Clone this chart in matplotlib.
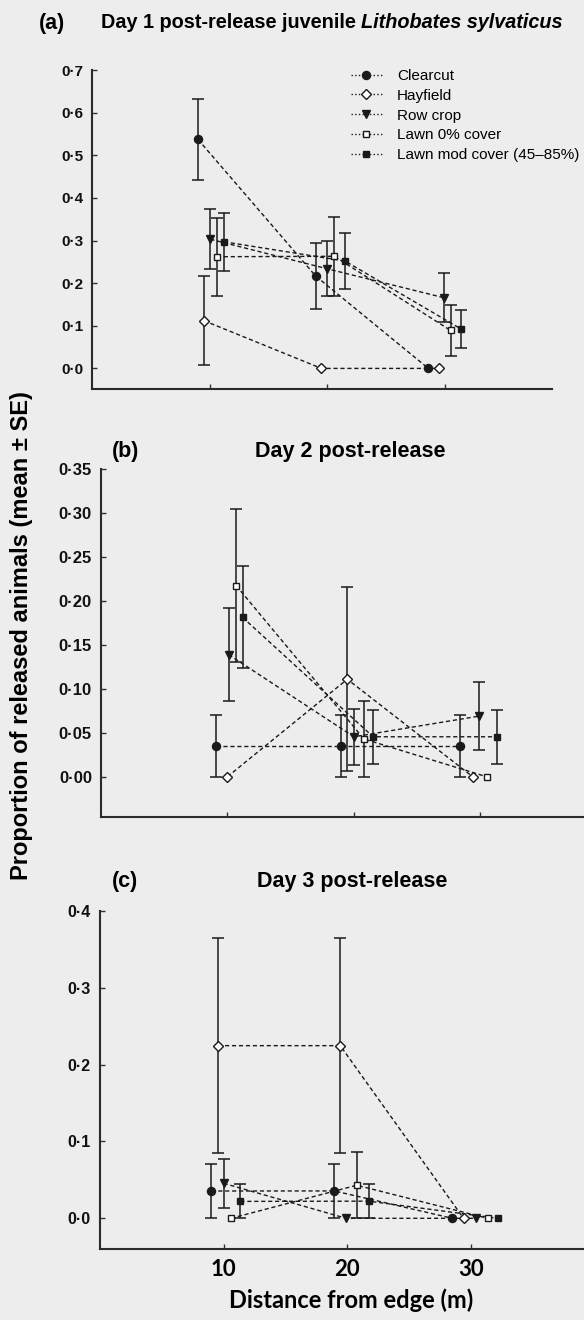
import numpy as np
import matplotlib
matplotlib.use("Agg")
import matplotlib.pyplot as plt
from matplotlib.lines import Line2D

# groups (legend order)
groups = ["Clearcut", "Hayfield", "Row crop", "Lawn 0% cover", "Lawn mod cover (45\u201385%)"]
markers = ["o", "D", "v", "s", "s"]
filled = [True, False, True, False, True]
distances = [10, 20, 30]

# Day 1 : x position (jittered distance), mean, SE ; rows follow groups
a_x = [[9.0, 19.0, 28.6], [9.5, 19.5, 29.5], [10.05, 19.95, 29.9],
       [10.6, 20.6, 30.5], [11.2, 21.5, 31.35]]
a_mean = [[0.537, 0.217, 0.0], [0.112, 0.0, 0.0], [0.303, 0.234, 0.166],
          [0.262, 0.263, 0.089], [0.297, 0.252, 0.093]]
a_se = [[0.094, 0.078, 0.0], [0.105, 0.0, 0.0], [0.07, 0.065, 0.057],
        [0.092, 0.092, 0.06], [0.068, 0.065, 0.045]]

# Day 2
b_x = [[9.06, 18.98, 28.43], [10.0, 19.48, 29.4], [10.1, 20.0, 29.9],
       [10.7, 20.79, 30.5], [11.2, 21.52, 31.3]]
b_mean = [[0.035, 0.035, 0.035], [0.0, 0.111, 0.0], [0.139, 0.0455, 0.069],
          [0.2174, 0.043, 0.0], [0.1814, 0.0455, 0.0455]]
b_se = [[0.035, 0.035, 0.035], [0.0, 0.105, 0.0], [0.053, 0.032, 0.039],
        [0.087, 0.043, 0.0], [0.058, 0.031, 0.031]]

# Day 3
c_x = [[9.0, 18.95, 28.5], [9.55, 19.43, 29.4], [10.0, 19.9, 30.4],
       [10.6, 20.76, 31.35], [11.35, 21.73, 32.15]]
c_mean = [[0.0355, 0.0356, 0.0], [0.2245, 0.2245, 0.0], [0.0455, 0.0, 0.0],
          [0.0, 0.043, 0.0], [0.022, 0.0223, 0.0]]
c_se = [[0.0355, 0.0355, 0.0], [0.14, 0.14, 0.0], [0.032, 0.0, 0.0],
        [0.0, 0.043, 0.0], [0.022, 0.022, 0.0]]

a_yticks = [0.0, 0.1, 0.2, 0.3, 0.4, 0.5, 0.6, 0.7]
b_yticks = [0.0, 0.05, 0.10, 0.15, 0.20, 0.25, 0.30, 0.35]
c_yticks = [0.0, 0.1, 0.2, 0.3, 0.4]

W, H = 584, 1320
bg = "#ededed"
ink = "#1a1a1a"
arial = ["Liberation Sans", "DejaVu Sans"]
calib = ["Lato", "DejaVu Sans"]

fig = plt.figure(figsize=(W / 100, H / 100), dpi=100, facecolor=bg)


def px_axes(left, top, right, bottom):
    return fig.add_axes([left / W, 1 - bottom / H, (right - left) / W, (bottom - top) / H])


def draw_panel(ax, xs, means, ses, xlim, ylim, yticks, ydec, tick_fs):
    for i in range(len(groups)):
        x = np.array(xs[i])
        m = np.array(means[i])
        s = np.array(ses[i])
        ax.plot(x, m, color=ink, lw=1.0, dashes=(3, 2), zorder=2)
        k = s > 0
        ax.errorbar(x[k], m[k], yerr=s[k], fmt="none", ecolor=ink, elinewidth=1.1,
                    capsize=4.5, capthick=1.1, zorder=3)
        ms = 5.8 if markers[i] in ("o", "v") else 5.0
        ax.plot(x, m, ls="none", marker=markers[i], ms=ms, mew=1.0, mec=ink,
                mfc=ink if filled[i] else "white", zorder=4)
    ax.set_xlim(*xlim)
    ax.set_ylim(*ylim)
    ax.set_facecolor("none")
    for sp in ["top", "right"]:
        ax.spines[sp].set_visible(False)
    for sp in ["left", "bottom"]:
        ax.spines[sp].set_linewidth(1.5)
        ax.spines[sp].set_color("#2a2a2a")
    ax.set_yticks(yticks)
    ax.set_yticklabels([("{:.%df}" % ydec).format(v).replace(".", "\u00b7") for v in yticks],
                       fontfamily=arial, fontweight="bold", fontsize=tick_fs, color="#111111")
    ax.set_xticks(distances)
    ax.tick_params(direction="in", length=3.5, width=1.0, color="#333333", pad=6.5)


ax_a = px_axes(92.3, 70, 551.7, 389.3)
draw_panel(ax_a, a_x, a_mean, a_se, (0, 39.1), (-0.049, 0.7), a_yticks, 1, 11)
ax_a.set_xticklabels([])

ax_b = px_axes(101, 469.3, 584, 816.7)
draw_panel(ax_b, b_x, b_mean, b_se, (0, 38.2), (-0.0455, 0.35), b_yticks, 2, 12)
ax_b.set_xticklabels([])

ax_c = px_axes(100, 910.7, 584, 1249.3)
draw_panel(ax_c, c_x, c_mean, c_se, (0, 39.14), (-0.0403, 0.4), c_yticks, 1, 11.5)
ax_c.set_xticklabels([str(d) for d in distances], fontfamily=calib, fontweight="bold", fontsize=16)
ax_c.tick_params(axis="x", pad=7)

# legend
handles = [Line2D([], [], color=ink, ls=":", lw=1.0, marker=markers[i],
                  ms=5.8 if markers[i] in ("o", "v") else 5.0, mec=ink,
                  mfc=ink if filled[i] else "white") for i in range(len(groups))]
fig.legend(handles, groups, loc="upper left", bbox_to_anchor=(351 / W, 1 - 69 / H),
           frameon=False, borderpad=0, borderaxespad=0, handlelength=2.0,
           handletextpad=1.0, labelspacing=0.38, prop={"family": arial, "size": 11})

# panel titles
fig.text(39 / W, 1 - 23 / H, "(a)", fontfamily=arial, fontweight="bold", fontsize=15.5, va="center")
t1 = fig.text(101 / W, 1 - 23 / H, "Day 1 post-release juvenile", fontfamily=arial,
              fontweight="bold", fontsize=14.3, va="center")
fig.canvas.draw()
bb = t1.get_window_extent()
fig.text((bb.x1 + 5) / W, 1 - 23 / H, "Lithobates sylvaticus", fontfamily=arial,
         fontweight="bold", fontstyle="italic", fontsize=14.3, va="center")

tfs = 15.5
fig.text(112 / W, 1 - 452 / H, "(b)", fontfamily=arial, fontweight="bold", fontsize=tfs, va="center")
fig.text(350 / W, 1 - 452 / H, "Day 2 post-release", fontfamily=arial, fontweight="bold",
         fontsize=tfs, va="center", ha="center")
fig.text(112 / W, 1 - 882 / H, "(c)", fontfamily=arial, fontweight="bold", fontsize=tfs, va="center")
fig.text(352 / W, 1 - 882 / H, "Day 3 post-release", fontfamily=arial, fontweight="bold",
         fontsize=tfs, va="center", ha="center")

# axis labels
fig.text(22 / W, 1 - 636 / H, "Proportion of released animals (mean \u00b1 SE)", rotation=90,
         fontfamily=arial, fontweight="bold", fontsize=17, va="center", ha="center")
fig.text(351 / W, 1 - 1300 / H, "Distance from edge (m)", fontfamily=calib, fontweight="bold",
         fontsize=17, va="center", ha="center")

fig.savefig("out.png", dpi=100, facecolor=bg)
